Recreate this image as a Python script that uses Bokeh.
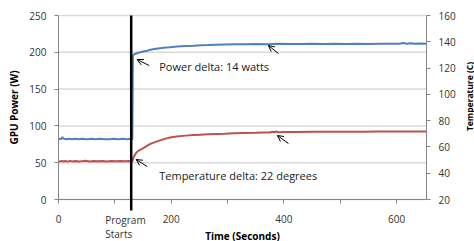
import math
from bokeh.plotting import figure
from bokeh.models import Range1d, LinearAxis, FixedTicker, Label, Arrow, OpenHead
from bokeh.embed import file_html
from bokeh.resources import INLINE

# ---------------- data ----------------
time_power = [0, 2, 4, 6, 7, 8, 10, 14, 18, 24, 30, 36, 42, 50, 58, 66, 74, 82, 90, 98,
              106, 114, 122, 128, 131, 132, 134, 137, 140, 145, 150, 157, 163, 170, 180,
              190, 198, 210, 225, 240, 252, 265, 280, 295, 311, 330, 350, 370, 390, 410,
              430, 450, 470, 490, 510, 530, 550, 570, 590, 605, 612, 618, 625, 632, 640, 653]
power_w = [82, 82.5, 82, 83, 85, 83, 82.5, 82, 82.5, 82, 82.5, 82, 82.5, 82, 82.5, 82, 82.5, 82, 82, 82.5,
           82, 82.5, 82, 82.5, 82, 196, 197, 198, 199, 200, 201, 202, 203.5, 204.5, 205.5,
           206.5, 207, 208, 208.5, 209, 209.5, 209.8, 210.2, 210.5, 210.8, 211, 211.2, 211, 211.5, 211.2,
           211.3, 211.5, 211.3, 211.5, 211.4, 211.5, 211.3, 211.6, 211.5, 211.5, 212.5, 211.5, 212.3, 211.6, 212, 211.5]

time_temp = [0, 3, 6, 9, 12, 16, 20, 25, 30, 36, 42, 48, 55, 62, 70, 78, 86, 94, 102, 110,
             118, 124, 128, 131, 132, 133, 135, 137, 140, 144, 148, 152, 157, 163, 170,
             180, 190, 198, 210, 225, 240, 252, 265, 280, 295, 311, 330, 350, 365, 375,
             380, 383, 386, 390, 400, 420, 450, 480, 510, 540, 570, 600, 630, 653]
temp_c = [49.2, 48.8, 49.4, 48.9, 49.3, 48.8, 49.4, 49, 49.3, 48.9, 49.2, 49.4, 49, 49.3, 49.1, 49.3, 49, 49.2, 49.1, 49.3,
          49.1, 49.2, 49.1, 49.2, 50.5, 52, 53.5, 55, 56.5, 57.6, 58.6, 59.5, 60.8, 62.3, 63.5,
          65, 66.3, 67.2, 68, 68.6, 69, 69.3, 69.6, 69.9, 70.1, 70.4, 70.6, 70.8, 71, 71,
          71.6, 71.2, 71.7, 71.2, 71.3, 71.4, 71.5, 71.5, 71.6, 71.6, 71.7, 71.7, 71.7, 71.7]

x_ticks = [0, 100, 200, 300, 400, 500, 600]
x_tick_labels = {100: "", 300: "", 500: ""}
power_ticks = [0, 50, 100, 150, 200, 250]
temp_ticks = [20, 40, 60, 80, 100, 120, 140, 160]
program_start = 129
time_max = 653

power_note = "Power delta: 14 watts"
temp_note = "Temperature delta: 22 degrees"
temp_title = "Temperature (C)"

# annotation arrows (x_head, y_head, x_tail, y_tail) in time / power units
note_arrows = [
    (139.6, 190.2, 160.9, 182.0),
    (372.4, 209.2, 390.2, 198.4),
    (137.8, 54.3, 157.3, 44.8),
    (388.4, 87.0, 408.0, 76.1),
]

# ---------------- layout (pixels) ----------------
W, H = 474, 241
PLOT_L, PLOT_R, PLOT_T, PLOT_B = 58, 426, 15, 199
POWER_MAX, TEMP_MIN, TEMP_MAX = 250, 20, 160
px_per_s = (PLOT_R - PLOT_L) / time_max
px_per_w = (PLOT_B - PLOT_T) / POWER_MAX
px_per_c = (PLOT_B - PLOT_T) / (TEMP_MAX - TEMP_MIN)

x_lo = -PLOT_L / px_per_s
x_hi = time_max + (W - PLOT_R) / px_per_s
power_lo = -(H - PLOT_B) / px_per_w
power_hi = POWER_MAX + PLOT_T / px_per_w
temp_lo = TEMP_MIN - (H - PLOT_B) / px_per_c
temp_hi = TEMP_MAX + PLOT_T / px_per_c

FONT = "Open Sans"
BLUE = "#4F81BD"
RED = "#C0504D"
AXIS = "#868686"
GRID = "#D9D9D9"

p = figure(width=W, height=H, output_backend="svg", toolbar_location=None,
           x_range=Range1d(x_lo, x_hi), y_range=Range1d(power_lo, power_hi),
           min_border_left=0, min_border_right=0, min_border_top=0, min_border_bottom=0)
p.outline_line_color = None
p.background_fill_color = "white"
p.border_fill_color = "white"
p.extra_y_ranges = {"temp": Range1d(temp_lo, temp_hi)}
p.xgrid.grid_line_color = None
p.ygrid.grid_line_color = None

# horizontal gridlines limited to the plot area
p.segment(x0=[0] * len(power_ticks), y0=power_ticks, x1=[time_max] * len(power_ticks), y1=power_ticks,
          line_color=GRID, line_width=1.5)

# x axis (fixed at power = 0)
xa = p.xaxis[0]
xa.fixed_location = 0
xa.bounds = (0, time_max)
xa.ticker = FixedTicker(ticks=x_ticks)
xa.major_label_overrides = x_tick_labels
xa.axis_label = "Time (Seconds)"
xa.major_tick_out = 4
xa.major_label_standoff = 11
xa.axis_label_standoff = 3

# left axis (fixed at time = 0)
ya = p.yaxis[0]
ya.fixed_location = 0
ya.bounds = (0, POWER_MAX)
ya.ticker = FixedTicker(ticks=power_ticks)
ya.axis_label = "GPU Power (W)"
ya.major_tick_out = 4
ya.major_label_standoff = 8
ya.axis_label_standoff = 5

# right axis (fixed at the last time)
ra = LinearAxis(y_range_name="temp", ticker=FixedTicker(ticks=temp_ticks),
                bounds=(TEMP_MIN, TEMP_MAX), fixed_location=time_max)
ra.major_tick_out = 4
ra.major_label_standoff = 8
p.add_layout(ra, "right")

for ax in (xa, ya, ra):
    ax.minor_tick_line_color = None
    ax.major_tick_in = 0
    ax.axis_line_color = AXIS
    ax.major_tick_line_color = AXIS
    ax.major_label_text_font = FONT
    ax.major_label_text_font_size = "10px"
    ax.major_label_text_color = "#333333"
    ax.axis_label_text_font = FONT
    ax.axis_label_text_font_style = "bold"
    ax.axis_label_text_font_size = "10px"
    ax.axis_label_text_color = "#000000"

# right axis title, reading bottom-to-top like the left one
p.add_layout(Label(x=time_max + 43 / px_per_s, y=(PLOT_B - 96) / px_per_w, text=temp_title,
                   angle=math.pi / 2, text_align="center", text_baseline="middle",
                   text_font=FONT, text_font_style="bold", text_font_size="8.5px", text_color="#000000"))

# program start marker line (extends a little below the time axis)
p.add_layout(Arrow(end=None, x_start=program_start, y_start=POWER_MAX, x_end=program_start,
                   y_end=-11 / px_per_w, line_color="black", line_width=2.5))

# data lines
p.line(time_power, power_w, line_color=BLUE, line_width=2)
p.line(time_temp, temp_c, line_color=RED, line_width=2, y_range_name="temp")

p.add_layout(Label(x=program_start, y=-20.5 / px_per_w, x_offset=-26, text="Program", text_align="left",
                   text_baseline="middle", text_font=FONT, text_font_size="10px", text_color="#333333"))
p.add_layout(Label(x=program_start, y=-34.5 / px_per_w, x_offset=-26, text="Starts", text_align="left",
                   text_baseline="middle", text_font=FONT, text_font_size="10px", text_color="#333333"))

# notes
p.add_layout(Label(x=178.7, y=180.7, text=power_note, text_align="left", text_baseline="middle",
                   text_font=FONT, text_font_size="11px", text_color="#222222"))
p.add_layout(Label(x=178.7, y=32.6, text=temp_note, text_align="left", text_baseline="middle",
                   text_font=FONT, text_font_size="11px", text_color="#222222"))
for xh, yh, xt, yt in note_arrows:
    p.add_layout(Arrow(end=OpenHead(size=6, line_width=1, line_color="black"),
                       x_start=xt, y_start=yt, x_end=xh, y_end=yh,
                       line_color="black", line_width=1))

open("out.html", "w").write(file_html(p, INLINE))
